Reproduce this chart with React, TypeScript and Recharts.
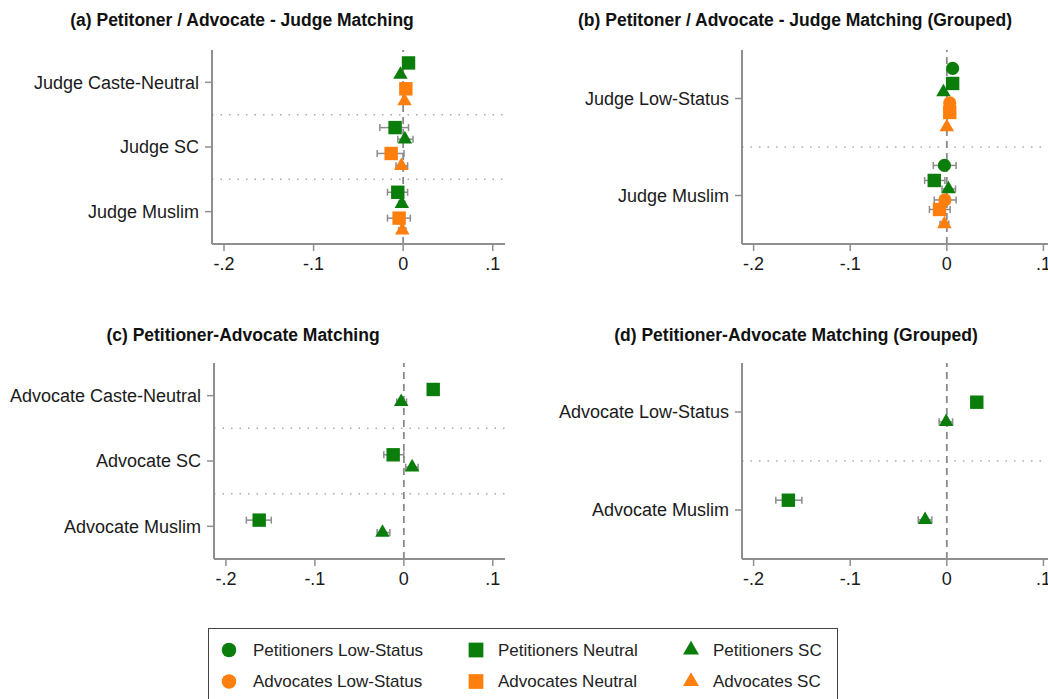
import React from "react";
import { ScatterChart, Scatter, XAxis, YAxis, ReferenceLine } from "recharts";

const GREEN = "#0b7d0b";
const ORANGE = "#ff7f0e";
const WHISKER = "#8c8c8c";
const FONT = '"Liberation Sans", Arial, sans-serif';

const xTicks = [-0.2, -0.1, 0, 0.1];
const xTickLabels = ["-.2", "-.1", "0", ".1"];

// (a) Petitoner / Advocate - Judge Matching
const aCats = ["Judge Caste-Neutral", "Judge SC", "Judge Muslim"];
const aPetNeutral = [0.006, -0.009, -0.006];
const aPetNeutralLo = [0.003, -0.026, -0.0175];
const aPetNeutralHi = [0.009, 0.006, 0.005];
const aPetSC = [-0.003, 0.002, -0.0015];
const aPetSCLo = [-0.005, -0.006, -0.005];
const aPetSCHi = [-0.001, 0.011, 0.002];
const aAdvNeutral = [0.003, -0.0134, -0.0045];
const aAdvNeutralLo = [0.0, -0.029, -0.0175];
const aAdvNeutralHi = [0.006, 0.001, 0.008];
const aAdvSC = [0.0015, -0.002, -0.001];
const aAdvSCLo = [-0.0005, -0.008, -0.005];
const aAdvSCHi = [0.0035, 0.005, 0.003];

// (b) grouped
const bCats = ["Judge Low-Status", "Judge Muslim"];
const bPetLow = [0.006, -0.0025];
const bPetLowLo = [0.003, -0.014];
const bPetLowHi = [0.009, 0.0096];
const bPetNeutral = [0.006, -0.013];
const bPetNeutralLo = [0.003, -0.023];
const bPetNeutralHi = [0.009, -0.002];
const bPetSC = [-0.0035, 0.0017];
const bPetSCLo = [-0.0055, -0.005];
const bPetSCHi = [-0.0015, 0.009];
const bAdvLow = [0.003, -0.002];
const bAdvLowLo = [0.0, -0.013];
const bAdvLowHi = [0.006, 0.0096];
const bAdvNeutral = [0.003, -0.0076];
const bAdvNeutralLo = [0.0, -0.018];
const bAdvNeutralHi = [0.006, 0.0034];
const bAdvSC = [0.0, -0.0025];
const bAdvSCLo = [-0.002, -0.007];
const bAdvSCHi = [0.002, 0.002];

// (c) Petitioner-Advocate Matching
const cCats = ["Advocate Caste-Neutral", "Advocate SC", "Advocate Muslim"];
const cNeutral = [0.033, -0.012, -0.1626];
const cNeutralLo = [0.03, -0.0225, -0.177];
const cNeutralHi = [0.036, 0.0, -0.149];
const cSC = [-0.003, 0.0093, -0.024];
const cSCLo = [-0.008, 0.002, -0.03];
const cSCHi = [0.003, 0.016, -0.0157];

// (d) grouped
const dCats = ["Advocate Low-Status", "Advocate Muslim"];
const dNeutral = [0.031, -0.164];
const dNeutralLo = [0.028, -0.177];
const dNeutralHi = [0.034, -0.15];
const dSC = [-0.0007, -0.0225];
const dSCLo = [-0.008, -0.0296];
const dSCHi = [0.006, -0.0155];

type Shape = "circle" | "square" | "triangle";
type Series = { key: string; color: string; shape: Shape; vals: number[]; lo: number[]; hi: number[]; off: number };

const legendItems: { name: string; color: string; shape: Shape }[] = [
  { name: "Petitioners Low-Status", color: GREEN, shape: "circle" },
  { name: "Petitioners Neutral", color: GREEN, shape: "square" },
  { name: "Petitioners SC", color: GREEN, shape: "triangle" },
  { name: "Advocates Low-Status", color: ORANGE, shape: "circle" },
  { name: "Advocates Neutral", color: ORANGE, shape: "square" },
  { name: "Advocates SC", color: ORANGE, shape: "triangle" },
];

function drawMarker(shape: Shape, color: string, cx: number, cy: number, s = 1) {
  if (shape === "circle") return <circle cx={cx} cy={cy} r={6.6 * s} fill={color} />;
  if (shape === "square") {
    const h = 6.7 * s;
    return <rect x={cx - h} y={cy - h} width={2 * h} height={2 * h} fill={color} />;
  }
  const side = 14.5 * s;
  const top = side / Math.sqrt(3);
  const bot = side / (2 * Math.sqrt(3));
  return <polygon points={`${cx},${cy - top} ${cx - side / 2},${cy + bot} ${cx + side / 2},${cy + bot}`} fill={color} />;
}

const cap = (p: any) => (
  <line x1={p.cx} x2={p.cx} y1={p.cy - 3.5} y2={p.cy + 3.5} stroke={WHISKER} strokeWidth={1.5} />
);

const points = (s: Series) => s.vals.map((v, i) => ({ x: v, y: i + s.off }));
// one little two-point series per confidence interval: lower end, upper end
const whiskers = (s: Series) =>
  s.vals.map((_, i) => [
    { x: s.lo[i], y: i + s.off },
    { x: s.hi[i], y: i + s.off },
  ]);

const aSeries: Series[] = [
  { key: "pn", color: GREEN, shape: "square", vals: aPetNeutral, lo: aPetNeutralLo, hi: aPetNeutralHi, off: -0.3 },
  { key: "ps", color: GREEN, shape: "triangle", vals: aPetSC, lo: aPetSCLo, hi: aPetSCHi, off: -0.12 },
  { key: "an", color: ORANGE, shape: "square", vals: aAdvNeutral, lo: aAdvNeutralLo, hi: aAdvNeutralHi, off: 0.1 },
  { key: "as", color: ORANGE, shape: "triangle", vals: aAdvSC, lo: aAdvSCLo, hi: aAdvSCHi, off: 0.29 },
];
const bSeries: Series[] = [
  { key: "pl", color: GREEN, shape: "circle", vals: bPetLow, lo: bPetLowLo, hi: bPetLowHi, off: -0.31 },
  { key: "pn", color: GREEN, shape: "square", vals: bPetNeutral, lo: bPetNeutralLo, hi: bPetNeutralHi, off: -0.155 },
  { key: "ps", color: GREEN, shape: "triangle", vals: bPetSC, lo: bPetSCLo, hi: bPetSCHi, off: -0.067 },
  { key: "al", color: ORANGE, shape: "circle", vals: bAdvLow, lo: bAdvLowLo, hi: bAdvLowHi, off: 0.046 },
  { key: "an", color: ORANGE, shape: "square", vals: bAdvNeutral, lo: bAdvNeutralLo, hi: bAdvNeutralHi, off: 0.144 },
  { key: "as", color: ORANGE, shape: "triangle", vals: bAdvSC, lo: bAdvSCLo, hi: bAdvSCHi, off: 0.294 },
];
const cSeries: Series[] = [
  { key: "pn", color: GREEN, shape: "square", vals: cNeutral, lo: cNeutralLo, hi: cNeutralHi, off: -0.095 },
  { key: "ps", color: GREEN, shape: "triangle", vals: cSC, lo: cSCLo, hi: cSCHi, off: 0.095 },
];
const dSeries: Series[] = [
  { key: "pn", color: GREEN, shape: "square", vals: dNeutral, lo: dNeutralLo, hi: dNeutralHi, off: -0.1 },
  { key: "ps", color: GREEN, shape: "triangle", vals: dSC, lo: dSCLo, hi: dSCHi, off: 0.1 },
];

interface PanelProps {
  left: number;
  top: number;
  axisW: number;
  plotW: number;
  plotH: number;
  cats: string[];
  series: Series[];
  xDomain: [number, number];
}

function Panel({ left, top, axisW, plotW, plotH, cats, series, xDomain }: PanelProps) {
  const n = cats.length;
  const seps = cats.slice(1).map((_, i) => i + 0.5);
  return (
    <div style={{ position: "absolute", left, top }}>
      <ScatterChart
        width={axisW + plotW}
        height={plotH + 40}
        margin={{ top: 0, right: 0, bottom: 0, left: 0 }}
      >
        <XAxis
          type="number"
          dataKey="x"
          domain={xDomain}
          allowDataOverflow
          ticks={xTicks}
          height={40}
          tickSize={7}
          tickMargin={6}
          axisLine={{ stroke: "#8f8f8f", strokeWidth: 2 }}
          tickLine={{ stroke: "#8f8f8f", strokeWidth: 1.5 }}
          tick={(p: any) => (
            <text x={p.x} y={p.y} dy="0.71em" textAnchor="middle" fontSize={18} fontFamily={FONT} fill="#1a1a1a">
              {xTickLabels[xTicks.indexOf(p.payload.value)]}
            </text>
          )}
        />
        <YAxis
          type="number"
          dataKey="y"
          domain={[-0.5, n - 0.5]}
          allowDataOverflow
          reversed
          ticks={cats.map((_, i) => i)}
          width={axisW}
          tickSize={7}
          tickMargin={6}
          axisLine={{ stroke: "#8f8f8f", strokeWidth: 2 }}
          tickLine={{ stroke: "#8f8f8f", strokeWidth: 1.5 }}
          tick={(p: any) => (
            <text x={p.x} y={p.y} dy="0.35em" textAnchor="end" fontSize={18} fontFamily={FONT} fill="#1a1a1a">
              {cats[p.payload.value]}
            </text>
          )}
        />
        {seps.map((s) => (
          <ReferenceLine key={s} y={s} stroke="#a8a8a8" strokeWidth={1.5} strokeDasharray="1.5 7" />
        ))}
        <ReferenceLine x={0} stroke="#8a8a8a" strokeWidth={1.8} strokeDasharray="7 5" />
        {/* confidence intervals first so the markers sit on top of them */}
        {series.flatMap((s) =>
          whiskers(s).map((w, i) => (
            <Scatter
              key={`ci-${s.key}-${i}`}
              data={w}
              line={{ stroke: WHISKER, strokeWidth: 1.5 }}
              isAnimationActive={false}
              shape={cap}
            />
          ))
        )}
        {series.map((s) => (
          <Scatter
            key={s.key}
            data={points(s)}
            isAnimationActive={false}
            shape={(p: any) => drawMarker(s.shape, s.color, p.cx, p.cy)}
          />
        ))}
      </ScatterChart>
    </div>
  );
}

function Title({ x, y, text }: { x: number; y: number; text: string }) {
  return (
    <div
      style={{
        position: "absolute",
        left: x,
        top: y - 11,
        transform: "translateX(-50%)",
        whiteSpace: "nowrap",
        fontFamily: FONT,
        fontWeight: "bold",
        fontSize: 17.5,
        lineHeight: "22px",
        color: "#111",
      }}
    >
      {text}
    </div>
  );
}

function Legend() {
  const colX = [229, 476, 691];
  const textX = [253, 498, 713];
  const rowY = [650, 681.5];
  return (
    <>
      <div
        style={{
          position: "absolute",
          left: 208,
          top: 628,
          width: 630,
          height: 90,
          border: "1.5px solid #444",
          boxSizing: "border-box",
        }}
      />
      <svg style={{ position: "absolute", left: 0, top: 0 }} width={1048} height={699}>
        {legendItems.map((it, i) => {
          const c = i % 3;
          const r = Math.floor(i / 3);
          return (
            <g key={it.name}>
              {drawMarker(it.shape, it.color, colX[c], rowY[r], 1.1)}
              <text x={textX[c]} y={rowY[r]} dy="0.35em" fontSize={17} fontFamily={FONT} fill="#222">
                {it.name}
              </text>
            </g>
          );
        })}
      </svg>
    </>
  );
}

export default function App() {
  return (
    <div
      style={{
        position: "fixed",
        left: 0,
        top: 0,
        width: 1048,
        height: 699,
        overflow: "hidden",
        background: "#fff",
      }}
    >
      <Title x={242} y={20} text="(a) Petitoner / Advocate - Judge Matching" />
      <Title x={795} y={20} text="(b) Petitoner / Advocate - Judge Matching (Grouped)" />
      <Title x={243} y={335} text="(c) Petitioner-Advocate Matching" />
      <Title x={796} y={335} text="(d) Petitioner-Advocate Matching (Grouped)" />
      <Panel left={0} top={50} axisW={212} plotW={293} plotH={194} cats={aCats} series={aSeries} xDomain={[-0.2134, 0.1137]} />
      <Panel left={530} top={50} axisW={212} plotW={314} plotH={194} cats={bCats} series={bSeries} xDomain={[-0.212, 0.113]} />
      <Panel left={0} top={363} axisW={214} plotW={291} plotH={196} cats={cCats} series={cSeries} xDomain={[-0.2134, 0.1137]} />
      <Panel left={530} top={363} axisW={212} plotW={314} plotH={196} cats={dCats} series={dSeries} xDomain={[-0.212, 0.113]} />
      <Legend />
    </div>
  );
}
